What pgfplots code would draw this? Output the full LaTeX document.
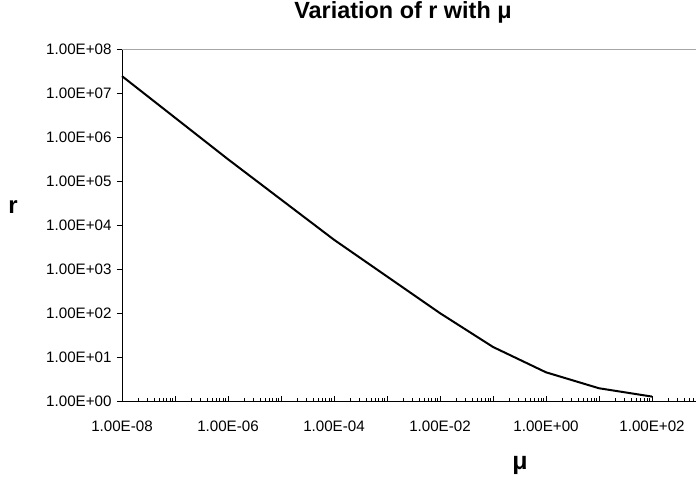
\documentclass[border=0pt]{standalone}
\usepackage{fontspec}
\setmainfont{Liberation Sans}
\usepackage{pgfplots}
\pgfplotsset{compat=1.18}

\begin{document}
\begin{tikzpicture}[x=1bp,y=1bp]
\begin{axis}[
  at={(0,0)}, anchor=south west,
  scale only axis, width=574bp, height=351.3bp,
  xmode=log, ymode=log,
  xmin=1e-8, xmax=676, ymin=1, ymax=1e8,
  axis lines*=left,
  axis line style={black, line width=0.8pt},
  tick align=inside,
  major tick length=5bp, minor tick length=3.5bp,
  tick style={black, line width=0.6pt},
  y tick style={xshift=-5bp},
  minor y tick style={draw=none},
  xtick={1e-8,1e-7,1e-6,1e-5,1e-4,1e-3,1e-2,1e-1,1,10,100},
  xticklabels={1.00E-08,,1.00E-06,,1.00E-04,,1.00E-02,,1.00E+00,,1.00E+02},
  minor xtick={2e-8,3e-8,4e-8,5e-8,6e-8,7e-8,8e-8,9e-8,
    2e-7,3e-7,4e-7,5e-7,6e-7,7e-7,8e-7,9e-7,
    2e-6,3e-6,4e-6,5e-6,6e-6,7e-6,8e-6,9e-6,
    2e-5,3e-5,4e-5,5e-5,6e-5,7e-5,8e-5,9e-5,
    2e-4,3e-4,4e-4,5e-4,6e-4,7e-4,8e-4,9e-4,
    2e-3,3e-3,4e-3,5e-3,6e-3,7e-3,8e-3,9e-3,
    2e-2,3e-2,4e-2,5e-2,6e-2,7e-2,8e-2,9e-2,
    0.2,0.3,0.4,0.5,0.6,0.7,0.8,0.9,
    2,3,4,5,6,7,8,9,
    20,30,40,50,60,70,80,90,
    200,300,400,500,600},
  ytick={1,10,100,1e3,1e4,1e5,1e6,1e7,1e8},
  yticklabels={1.00E+00,1.00E+01,1.00E+02,1.00E+03,1.00E+04,1.00E+05,1.00E+06,1.00E+07,1.00E+08},
  tick label style={font=\fontsize{15.2}{17}\selectfont},
  x tick label style={yshift=-16bp},
  y tick label style={xshift=-7bp},
  clip=false,
]
\draw[gray!70, line width=1pt] (rel axis cs:0,1) -- (rel axis cs:1,1);
\addplot[black, line width=2bp] coordinates {
  (1e-8, 2.5e7) (1e-6, 3.2e5) (1e-4, 4.7e3) (1e-2, 100) (1e-1, 17)
  (1, 4.5) (10, 1.95) (100, 1.26)
};
\end{axis}
\node[font=\fontsize{23.5}{27}\selectfont\bfseries] at (281,389) {Variation of r with μ};
\node[font=\fontsize{24}{28}\selectfont\bfseries] at (-109,194) {r};
\node[font=\fontsize{25}{28}\selectfont\bfseries] at (398,-64) {μ};
\pgfresetboundingbox
\path (-122,-96) rectangle (574,401);
\end{tikzpicture}
\end{document}
